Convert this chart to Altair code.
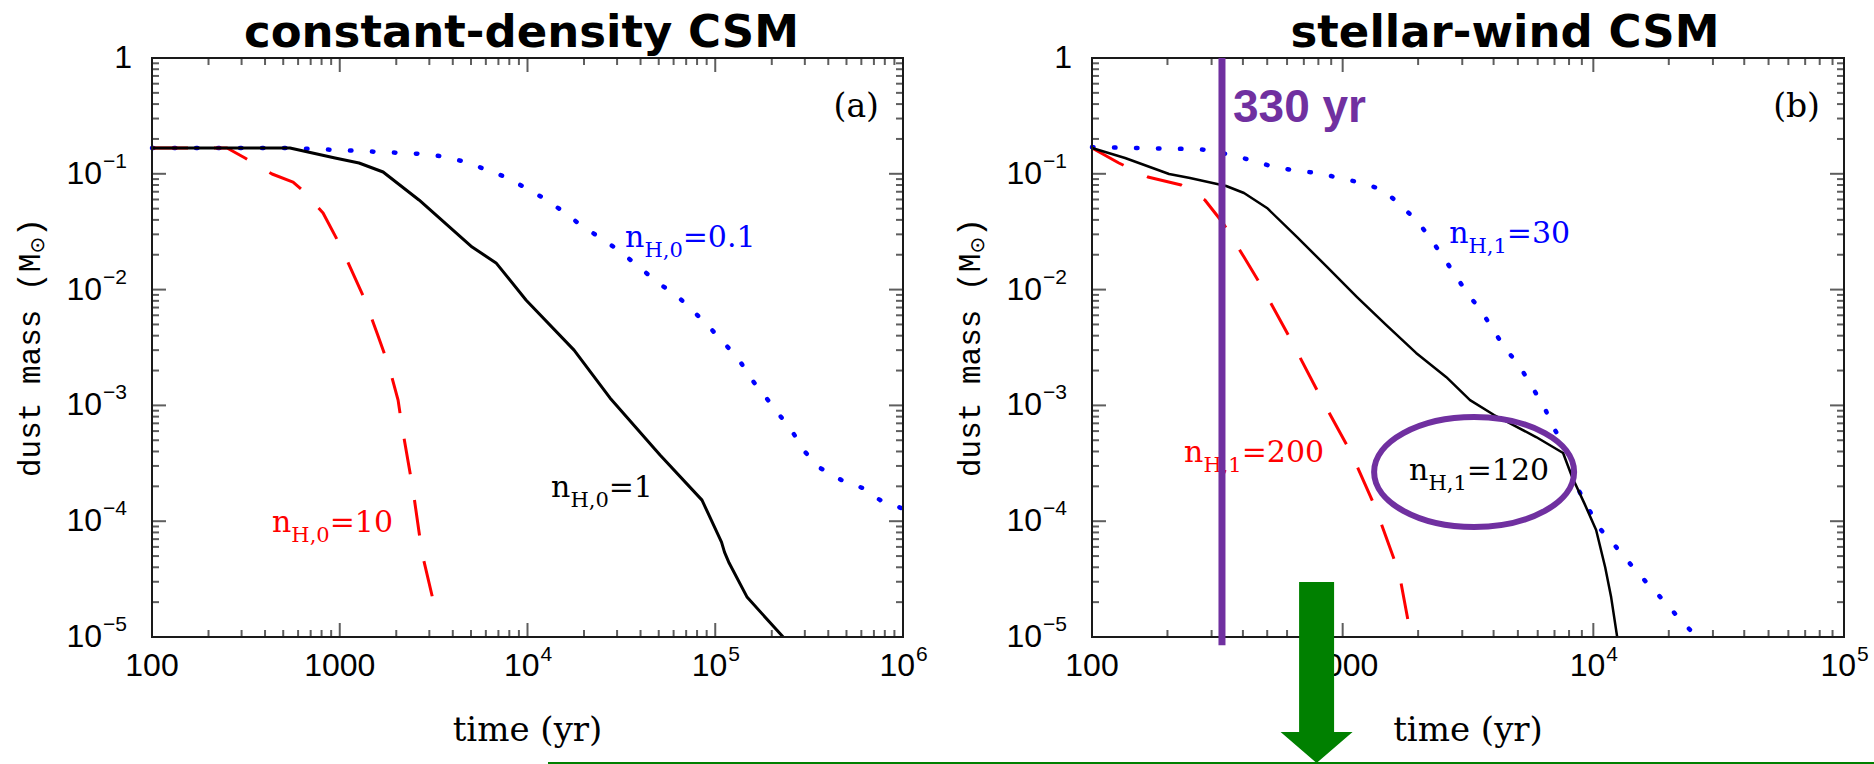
import altair as alt
import pandas as pd

# ---------------- curve data: time (yr) vs dust mass (Msun) ----------------
# panel (a): constant-density CSM
a_t_n1 = [100, 300, 543, 944, 1267, 1702, 2643, 5070, 6800, 9840, 17700, 27500,
          50800, 85000, 108000, 112000, 118600, 148000, 230000]
a_m_n1 = [0.167, 0.167, 0.167, 0.137, 0.124, 0.1037, 0.0594, 0.0233, 0.017, 0.0081,
          3.0e-3, 1.16e-3, 3.73e-4, 1.52e-4, 6.6e-5, 5.4e-5, 4.35e-5, 2.2e-5, 1.0e-5]

a_t_n10 = [100, 251, 313, 436, 564, 630, 815, 1016, 1364, 1581, 1832, 2045, 2148,
           2457, 2743, 3300]
a_m_n10 = [0.167, 0.167, 0.137, 0.0996, 0.0849, 0.0725, 0.0459, 0.0233, 8.1e-3,
           4.2e-3, 2.15e-3, 1.11e-3, 6.5e-4, 1.86e-4, 5.3e-5, 1.49e-5]

a_t_n01 = [100, 524, 944, 1702, 2847, 3683, 4709, 6095, 7880, 10200, 12700, 15850,
           19800, 25600, 31900, 39800, 49700, 61900, 77200, 92900, 111500, 134000,
           157000, 187000, 216000, 260000, 301000, 362000, 469000, 607000, 757000,
           977000]
a_m_n01 = [0.167, 0.167, 0.161, 0.154, 0.148, 0.140, 0.126, 0.108, 0.092, 0.0725,
           0.0594, 0.0459, 0.0347, 0.0268, 0.0207, 0.0154, 0.0114, 8.98e-3, 6.41e-3,
           4.75e-3, 3.46e-3, 2.47e-3, 1.66e-3, 1.16e-3, 8.6e-4, 5.78e-4, 3.96e-4,
           2.88e-4, 2.27e-4, 1.94e-4, 1.52e-4, 1.30e-4]

# panel (b): stellar-wind CSM
b_t_n120 = [100, 135.5, 203, 246, 343, 404, 499, 658, 866, 1141, 1490, 1963, 2586,
            3222, 4018, 5912, 7575, 8230, 9190, 10260, 11150, 11780, 12450]
b_m_n120 = [0.167, 0.137, 0.0996, 0.092, 0.0785, 0.0683, 0.0507, 0.0284, 0.0157,
            8.63e-3, 4.95e-3, 2.84e-3, 1.76e-3, 1.11e-3, 8.26e-4, 5.33e-4, 3.88e-4,
            2.41e-4, 1.44e-4, 8.4e-5, 4.0e-5, 2.2e-5, 1.0e-5]

b_t_n200 = [100, 128, 167, 227, 282, 333, 404, 477, 622, 820, 1081, 1347, 1680, 1875]
b_m_n200 = [0.167, 0.124, 0.0938, 0.080, 0.0594, 0.0376, 0.0191, 0.0105, 3.67e-3,
            1.16e-3, 3.88e-4, 1.33e-4, 3.57e-5, 1.0e-5]

b_t_n30 = [100, 151, 233, 290, 343, 427, 528, 658, 798, 968, 1195, 1449, 1664, 1963,
           2192, 2517, 2811, 3135, 3600, 3983, 4446, 5105, 5700, 6368, 6918, 7715,
           8150, 8610, 9620, 10740, 12330, 14150, 16250, 18660, 21400, 24800]
b_m_n30 = [0.170, 0.167, 0.164, 0.161, 0.148, 0.132, 0.115, 0.106, 0.1016, 0.092,
           0.0834, 0.0725, 0.056, 0.0399, 0.0296, 0.0191, 0.0134, 9.35e-3, 6.41e-3,
           4.48e-3, 3.13e-3, 2.15e-3, 1.44e-3, 9.7e-4, 6.5e-4, 4.37e-4, 2.9e-4,
           1.97e-4, 1.25e-4, 8.4e-5, 5.98e-5, 4.19e-5, 2.98e-5, 2.17e-5, 1.55e-5,
           1.1e-5]

# ---------------- curve labels ----------------
lab_a_t = [33100, 13360, 436]
lab_a_m = [0.0233, 1.62e-4, 8.07e-5]
lab_a_sub = ["H,0", "H,0", "H,0"]
lab_a_val = ["=0.1", "=1", "=10"]
lab_a_col = ["#0000ff", "#000000", "#ff0000"]

lab_b_t = [2660, 233, 1841]
lab_b_m = [0.0253, 3.25e-4, 2.27e-4]
lab_b_sub = ["H,1", "H,1", "H,1"]
lab_b_val = ["=30", "=200", "=120"]
lab_b_col = ["#0000ff", "#ff0000", "#000000"]

# ---------------- axis ticks and labels ----------------
xa_major = [100, 1000, 1e4, 1e5, 1e6]
xb_major = [100, 1000, 1e4, 1e5]
y_major = [1e-5, 1e-4, 1e-3, 1e-2, 1e-1, 1]
mults = [2, 3, 4, 5, 6, 7, 8, 9]
xa_minor = [d * k for d in xa_major[:-1] for k in mults]
xb_minor = [d * k for d in xb_major[:-1] for k in mults]
y_minor = [d * k for d in y_major[:-1] for k in mults]

xa_plain, xa_plain_txt = [100, 1000], ["100", "1000"]
xa_pow, xa_pow_exp = [1e4, 1e5, 1e6], ["4", "5", "6"]
xb_plain, xb_plain_txt = [100, 1000], ["100", "1000"]
xb_pow, xb_pow_exp = [1e4, 1e5], ["4", "5"]
y_plain, y_plain_txt = [1], ["1"]
y_pow, y_pow_exp = [1e-1, 1e-2, 1e-3, 1e-4, 1e-5], ["\u22121", "\u22122", "\u22123", "\u22124", "\u22125"]

# ---------------- scales (two panels on one canvas) ----------------
xa = alt.Scale(type="log", domain=[100, 1e6], range=[152, 903], nice=False)
xb = alt.Scale(type="log", domain=[100, 1e5], range=[1092, 1844], nice=False)
ys = alt.Scale(type="log", domain=[1e-5, 1], range=[637, 58], nice=False)

BLUE, RED, BLACK = "#0000ff", "#ff0000", "#000000"
PURPLE, GREEN = "#7030a0", "#008000"
AXIS_COL = "#1a1a1a"
TICK_FONT = "Liberation Sans"
SERIF = "DejaVu Serif"


def curve(t, m, xs, color, dash=None, width=3.0, cap="butt"):
    df = pd.DataFrame({"t": t, "m": m})
    kw = dict(color=color, strokeWidth=width, strokeCap=cap, strokeJoin="round")
    if dash:
        kw["strokeDash"] = dash
    return alt.Chart(df).mark_line(**kw).encode(
        x=alt.X("t:Q", scale=xs, axis=None),
        y=alt.Y("m:Q", scale=ys, axis=None),
    )


def frame(xs, x_lo, x_hi):
    return [
        alt.Chart(pd.DataFrame({"k": [0]})).mark_rect(
            filled=False, stroke=AXIS_COL, strokeWidth=2
        ).encode(
            x=alt.X(datum=x_lo, scale=xs, axis=None),
            x2=alt.X2(datum=x_hi),
            y=alt.Y(datum=1e-5, scale=ys, axis=None),
            y2=alt.Y2(datum=1),
        )
    ]


def ticks(xs, x_lo, x_hi, xmaj, xmin):
    layers = []
    for vals, size in ((xmaj, 14), (xmin, 7)):
        df = pd.DataFrame({"v": vals})
        for ydat, off in ((1e-5, -size / 2), (1.0, size / 2)):
            layers.append(
                alt.Chart(df).mark_tick(
                    orient="vertical", size=size, thickness=2, yOffset=off, color=AXIS_COL
                ).encode(
                    x=alt.X("v:Q", scale=xs, axis=None),
                    y=alt.Y(datum=ydat, scale=ys, axis=None),
                )
            )
    for vals, size in ((y_major, 14), (y_minor, 7)):
        df = pd.DataFrame({"v": vals})
        for xdat, off in ((x_lo, size / 2), (x_hi, -size / 2)):
            layers.append(
                alt.Chart(df).mark_tick(
                    orient="horizontal", size=size, thickness=2, xOffset=off, color=AXIS_COL
                ).encode(
                    x=alt.X(datum=xdat, scale=xs, axis=None),
                    y=alt.Y("v:Q", scale=ys, axis=None),
                )
            )
    return layers


def tick_labels(xs, x_lo, plain, plain_txt, pw, pw_exp):
    layers = []
    base = dict(font=TICK_FONT, fontSize=32, color=BLACK, baseline="middle")
    sup = dict(font=TICK_FONT, fontSize=21, color=BLACK, baseline="middle")
    # x axis
    layers.append(
        alt.Chart(pd.DataFrame({"v": plain, "s": plain_txt})).mark_text(
            align="center", dy=28.5, **base
        ).encode(x=alt.X("v:Q", scale=xs, axis=None),
                 y=alt.Y(datum=1e-5, scale=ys, axis=None), text="s:N")
    )
    dfp = pd.DataFrame({"v": pw, "e": pw_exp})
    layers.append(
        alt.Chart(dfp).mark_text(align="right", dx=12, dy=28.5, text="10", **base).encode(
            x=alt.X("v:Q", scale=xs, axis=None),
            y=alt.Y(datum=1e-5, scale=ys, axis=None))
    )
    layers.append(
        alt.Chart(dfp).mark_text(align="left", dx=13, dy=18, **sup).encode(
            x=alt.X("v:Q", scale=xs, axis=None),
            y=alt.Y(datum=1e-5, scale=ys, axis=None), text="e:N")
    )
    # y axis
    layers.append(
        alt.Chart(pd.DataFrame({"v": y_plain, "s": y_plain_txt})).mark_text(
            align="right", dx=-20, **base
        ).encode(x=alt.X(datum=x_lo, scale=xs, axis=None),
                 y=alt.Y("v:Q", scale=ys, axis=None), text="s:N")
    )
    dfy = pd.DataFrame({"v": y_pow, "e": y_pow_exp})
    layers.append(
        alt.Chart(dfy).mark_text(align="right", dx=-50, text="10", **base).encode(
            x=alt.X(datum=x_lo, scale=xs, axis=None),
            y=alt.Y("v:Q", scale=ys, axis=None))
    )
    layers.append(
        alt.Chart(dfy).mark_text(align="left", dx=-49, dy=-12, **sup).encode(
            x=alt.X(datum=x_lo, scale=xs, axis=None),
            y=alt.Y("v:Q", scale=ys, axis=None), text="e:N")
    )
    return layers


def curve_labels(xs, t, m, sub, val, col):
    df = pd.DataFrame({"t": t, "m": m, "sub": sub, "val": val, "col": col})
    enc = dict(x=alt.X("t:Q", scale=xs, axis=None),
               y=alt.Y("m:Q", scale=ys, axis=None),
               color=alt.Color("col:N", scale=None))
    main = dict(font=SERIF, fontSize=30, baseline="alphabetic", align="left")
    return [
        alt.Chart(df).mark_text(text="n", **main).encode(**enc),
        alt.Chart(df).mark_text(font=SERIF, fontSize=21, baseline="alphabetic",
                                align="left", dx=19.3, dy=10).encode(text="sub:N", **enc),
        alt.Chart(df).mark_text(dx=57.6, **main).encode(text="val:N", **enc),
    ]


def panel_text(xs, x_lo, x_hi, x_mid, title, title_dx, tag):
    one = pd.DataFrame({"k": [0]})
    layers = [
        # panel title
        alt.Chart(one).mark_text(text=title, font="DejaVu Sans", fontWeight="bold",
                                 fontSize=45, align="center", baseline="alphabetic",
                                 dx=title_dx, dy=-11, color=BLACK).encode(
            x=alt.X(datum=x_mid, scale=xs, axis=None),
            y=alt.Y(datum=1, scale=ys, axis=None)),
        # panel tag
        alt.Chart(one).mark_text(text=tag, font=SERIF, fontSize=33, align="right",
                                 baseline="alphabetic", dx=-24, dy=59, color=BLACK).encode(
            x=alt.X(datum=x_hi, scale=xs, axis=None),
            y=alt.Y(datum=1, scale=ys, axis=None)),
        # x axis title
        alt.Chart(one).mark_text(text="time (yr)", font=SERIF, fontSize=34, align="center",
                                 baseline="alphabetic", dy=104, color=BLACK).encode(
            x=alt.X(datum=x_mid, scale=xs, axis=None),
            y=alt.Y(datum=1e-5, scale=ys, axis=None)),
    ]
    # rotated y axis title: "dust mass (M" + subscript sun + ")"
    ymid = 10 ** -2.5
    ytitle = [("dust mass (M", -129.5, -121, "Liberation Mono", 31),
              ("\u2299", 94.0, -114, "DejaVu Sans", 20),
              (")", 110.8, -121, "Liberation Mono", 31)]
    for txt, dx, dy, fnt, fs in ytitle:
        layers.append(
            alt.Chart(one).mark_text(text=txt, font=fnt, fontSize=fs, angle=270,
                                     align="left", baseline="middle", dx=dx, dy=dy,
                                     color=BLACK).encode(
                x=alt.X(datum=x_lo, scale=xs, axis=None),
                y=alt.Y(datum=ymid, scale=ys, axis=None))
        )
    return layers


layers = []
# panel (a)
layers += ticks(xa, 100, 1e6, xa_major, xa_minor)
layers += tick_labels(xa, 100, xa_plain, xa_plain_txt, xa_pow, xa_pow_exp)
layers += panel_text(xa, 100, 1e6, 1e4, "constant-density CSM", -6, "(a)")
layers += [
    curve(a_t_n01, a_m_n01, xa, BLUE, dash=[1.5, 20.5], width=4.5, cap="round"),
    curve(a_t_n10, a_m_n10, xa, RED, dash=[36, 26], width=3),
    curve(a_t_n1, a_m_n1, xa, BLACK, width=3),
]
layers += frame(xa, 100, 1e6)
layers += curve_labels(xa, lab_a_t, lab_a_m, lab_a_sub, lab_a_val, lab_a_col)

# panel (b)
layers += ticks(xb, 100, 1e5, xb_major, xb_minor)
layers += tick_labels(xb, 100, xb_plain, xb_plain_txt, xb_pow, xb_pow_exp)
layers += panel_text(xb, 100, 1e5, 10 ** 3.5, "stellar-wind CSM", 37, "(b)")
layers += [
    curve(b_t_n30, b_m_n30, xb, BLUE, dash=[1.5, 20.5], width=4.5, cap="round"),
    curve(b_t_n200, b_m_n200, xb, RED, dash=[36, 26], width=3),
    curve(b_t_n120, b_m_n120, xb, BLACK, width=2.5),
]
layers += frame(xb, 100, 1e5)
layers += curve_labels(xb, lab_b_t, lab_b_m, lab_b_sub, lab_b_val, lab_b_col)

# annotations: 330 yr marker, highlighted label, arrow
one = pd.DataFrame({"k": [0]})
ELLIPSE = ("M 1 0 C 1 0.3038 0.5523 0.55 0 0.55 C -0.5523 0.55 -1 0.3038 -1 0 "
           "C -1 -0.3038 -0.5523 -0.55 0 -0.55 C 0.5523 -0.55 1 -0.3038 1 0 Z")
ARROW = ("M -0.175 -1.81 L 0.175 -1.81 L 0.175 -0.31 L 0.36 -0.31 L 0 0 "
         "L -0.36 -0.31 L -0.175 -0.31 Z")
layers += [
    alt.Chart(one).mark_rule(color=PURPLE, strokeWidth=7).encode(
        x=alt.X(datum=330, scale=xb, axis=None),
        y=alt.Y(datum=1, scale=ys, axis=None),
        y2=alt.Y2(datum=8.5e-6)),
    alt.Chart(one).mark_text(text="330 yr", font="Liberation Sans", fontWeight="bold",
                             fontSize=46, align="left", baseline="alphabetic",
                             dx=11, dy=64, color=PURPLE).encode(
        x=alt.X(datum=330, scale=xb, axis=None),
        y=alt.Y(datum=1, scale=ys, axis=None)),
    alt.Chart(one).mark_point(shape=ELLIPSE, size=40000, filled=False, color=PURPLE,
                              strokeWidth=6, opacity=1).encode(
        x=alt.X(datum=3345, scale=xb, axis=None),
        y=alt.Y(datum=2.66e-4, scale=ys, axis=None)),
    alt.Chart(one).mark_point(shape=ARROW, size=40000, filled=True, color=GREEN,
                              opacity=1, strokeWidth=0).encode(
        x=alt.X(datum=787, scale=xb, axis=None),
        y=alt.value(763)),
    alt.Chart(one).mark_rule(color=GREEN, strokeWidth=2).encode(
        x=alt.value(548), x2=alt.value(1874), y=alt.value(763)),
]

chart = alt.layer(*layers).resolve_scale(x="independent").properties(
    width=1874, height=764, padding=0,
    autosize=alt.AutoSizeParams(type="none"),
    background="white",
).configure_view(stroke=None)

chart.save("out.html", embed_options={"renderer": "svg", "actions": False})
